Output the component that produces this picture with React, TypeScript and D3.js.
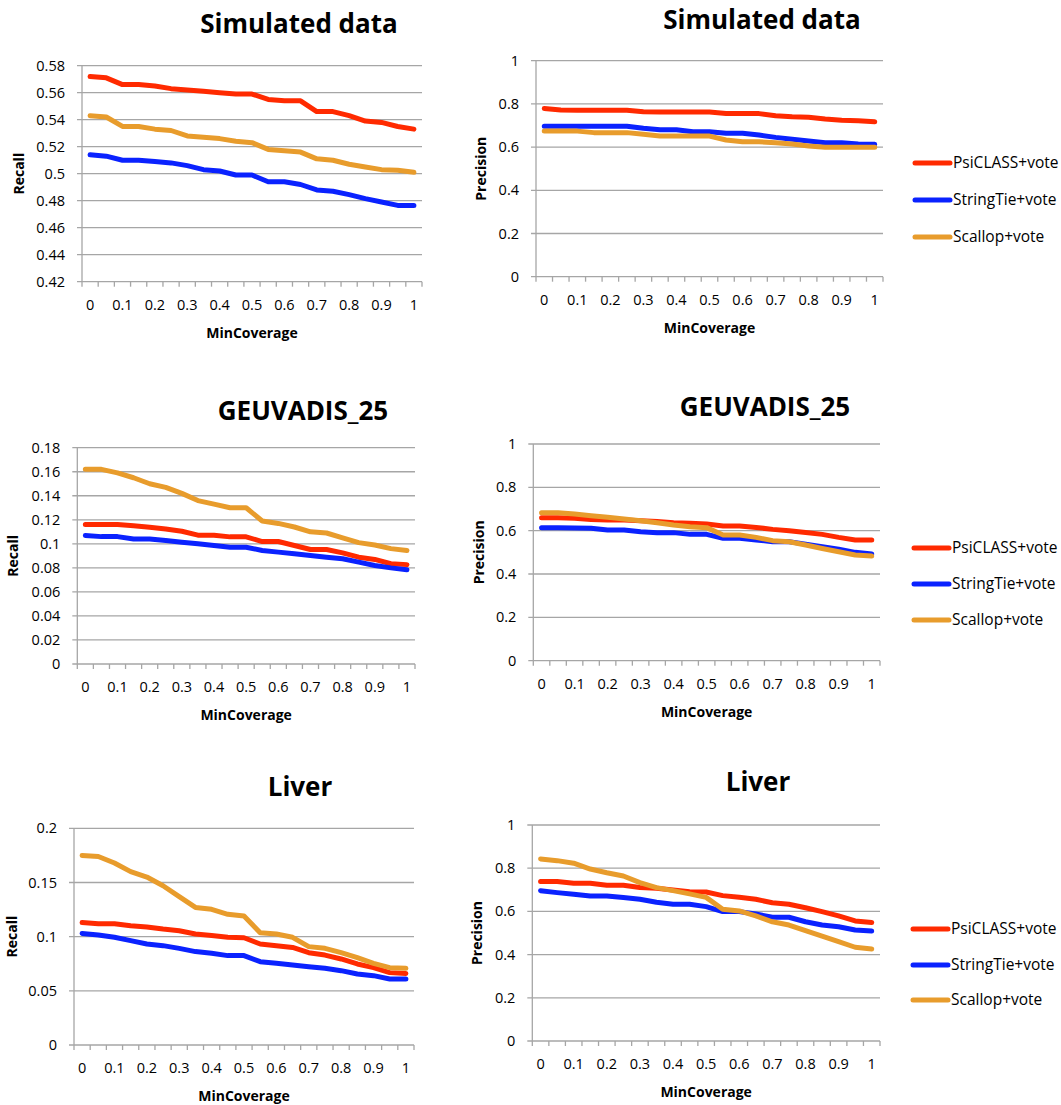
import React from "react";
import * as d3 from "d3";

const minCoverage = [0, 0.05, 0.1, 0.15, 0.2, 0.25, 0.3, 0.35, 0.4, 0.45, 0.5, 0.55, 0.6, 0.65, 0.7, 0.75, 0.8, 0.85, 0.9, 0.95, 1];
const xTickLabels = ["0", "", "0.1", "", "0.2", "", "0.3", "", "0.4", "", "0.5", "", "0.6", "", "0.7", "", "0.8", "", "0.9", "", "1"];
const seriesNames = ["PsiCLASS+vote", "StringTie+vote", "Scallop+vote"];
const seriesColors = ["#ff2a00", "#0a22ff", "#e89c2c"];

// Simulated data
const simRecallPsi = [0.572, 0.571, 0.566, 0.566, 0.565, 0.563, 0.562, 0.561, 0.560, 0.559, 0.559, 0.555, 0.554, 0.554, 0.546, 0.546, 0.543, 0.539, 0.538, 0.535, 0.533];
const simRecallStr = [0.514, 0.513, 0.510, 0.510, 0.509, 0.508, 0.506, 0.503, 0.502, 0.499, 0.499, 0.494, 0.494, 0.492, 0.488, 0.487, 0.4845, 0.4815, 0.479, 0.4765, 0.4765];
const simRecallSca = [0.543, 0.542, 0.535, 0.535, 0.533, 0.532, 0.528, 0.527, 0.526, 0.524, 0.523, 0.518, 0.517, 0.516, 0.511, 0.510, 0.507, 0.505, 0.503, 0.5025, 0.501];
const simPrecPsi = [0.779, 0.772, 0.771, 0.771, 0.771, 0.771, 0.764, 0.762, 0.762, 0.762, 0.762, 0.756, 0.755, 0.755, 0.745, 0.740, 0.738, 0.730, 0.724, 0.722, 0.717];
const simPrecStr = [0.697, 0.697, 0.697, 0.697, 0.697, 0.697, 0.687, 0.680, 0.680, 0.671, 0.671, 0.664, 0.664, 0.656, 0.645, 0.636, 0.628, 0.620, 0.620, 0.614, 0.613];
const simPrecSca = [0.674, 0.674, 0.674, 0.667, 0.667, 0.667, 0.659, 0.651, 0.651, 0.651, 0.651, 0.633, 0.625, 0.625, 0.620, 0.614, 0.605, 0.599, 0.599, 0.599, 0.599];

// GEUVADIS_25
const geuRecallPsi = [0.116, 0.116, 0.116, 0.115, 0.1138, 0.1124, 0.1105, 0.1072, 0.1072, 0.1058, 0.1058, 0.1019, 0.1019, 0.0986, 0.0953, 0.0953, 0.0925, 0.0889, 0.087, 0.0834, 0.0827];
const geuRecallStr = [0.107, 0.106, 0.106, 0.104, 0.104, 0.1028, 0.1014, 0.100, 0.0986, 0.0972, 0.0972, 0.0945, 0.0931, 0.0917, 0.0903, 0.0889, 0.0876, 0.0848, 0.082, 0.080, 0.0785];
const geuRecallSca = [0.162, 0.162, 0.159, 0.155, 0.150, 0.147, 0.142, 0.136, 0.133, 0.130, 0.130, 0.119, 0.117, 0.114, 0.110, 0.109, 0.105, 0.101, 0.099, 0.096, 0.0945];
const geuPrecPsi = [0.660, 0.660, 0.657, 0.652, 0.649, 0.649, 0.646, 0.642, 0.637, 0.634, 0.631, 0.622, 0.622, 0.615, 0.606, 0.600, 0.592, 0.583, 0.569, 0.557, 0.557];
const geuPrecStr = [0.614, 0.614, 0.612, 0.611, 0.603, 0.603, 0.595, 0.591, 0.591, 0.583, 0.583, 0.565, 0.565, 0.557, 0.549, 0.549, 0.538, 0.526, 0.515, 0.500, 0.492];
const geuPrecSca = [0.683, 0.683, 0.677, 0.669, 0.662, 0.654, 0.646, 0.637, 0.626, 0.618, 0.614, 0.580, 0.580, 0.569, 0.554, 0.549, 0.534, 0.518, 0.503, 0.488, 0.483];

// Liver
const livRecallPsi = [0.113, 0.112, 0.112, 0.110, 0.109, 0.107, 0.1055, 0.1025, 0.101, 0.0994, 0.099, 0.0932, 0.0917, 0.090, 0.0852, 0.083, 0.0794, 0.0748, 0.0714, 0.0668, 0.066];
const livRecallStr = [0.103, 0.1015, 0.0994, 0.0963, 0.0932, 0.0917, 0.0892, 0.0862, 0.0846, 0.0825, 0.0825, 0.0769, 0.0754, 0.0738, 0.0723, 0.0708, 0.0686, 0.0655, 0.064, 0.0609, 0.0609];
const livRecallSca = [0.175, 0.174, 0.168, 0.160, 0.155, 0.147, 0.137, 0.127, 0.1252, 0.1206, 0.119, 0.1037, 0.1025, 0.0994, 0.0908, 0.0892, 0.0852, 0.0806, 0.0754, 0.0714, 0.0708];
const livPrecPsi = [0.738, 0.738, 0.730, 0.730, 0.721, 0.721, 0.711, 0.707, 0.699, 0.691, 0.690, 0.673, 0.665, 0.656, 0.640, 0.633, 0.617, 0.599, 0.579, 0.556, 0.549];
const livPrecStr = [0.696, 0.687, 0.679, 0.671, 0.671, 0.664, 0.656, 0.642, 0.633, 0.633, 0.622, 0.599, 0.599, 0.588, 0.573, 0.573, 0.552, 0.537, 0.529, 0.514, 0.509];
const livPrecSca = [0.843, 0.835, 0.823, 0.796, 0.779, 0.764, 0.733, 0.710, 0.696, 0.681, 0.665, 0.610, 0.602, 0.579, 0.552, 0.537, 0.511, 0.486, 0.460, 0.434, 0.426];

const recallTicksSim = [0.42, 0.44, 0.46, 0.48, 0.5, 0.52, 0.54, 0.56, 0.58];
const recallTicksGeu = [0, 0.02, 0.04, 0.06, 0.08, 0.1, 0.12, 0.14, 0.16, 0.18];
const recallTicksLiv = [0, 0.05, 0.1, 0.15, 0.2];
const precisionTicks = [0, 0.2, 0.4, 0.6, 0.8, 1];

const FONT = "'Open Sans', 'DejaVu Sans', sans-serif";

type Panel = {
  title: string;
  yLabel: string;
  series: number[][];
  ticks: number[];
  left: number; right: number; top: number; bottom: number;
  titleX: number; titleY: number;
  yLabelX: number;
  legend?: { x: number; y: number[] };
};

const panels: Panel[] = [
  { title: "Simulated data", yLabel: "Recall", series: [simRecallPsi, simRecallStr, simRecallSca], ticks: recallTicksSim,
    left: 82, right: 422, top: 65.7, bottom: 281.7, titleX: 299, titleY: 33, yLabelX: 19 },
  { title: "Simulated data", yLabel: "Precision", series: [simPrecPsi, simPrecStr, simPrecSca], ticks: precisionTicks,
    left: 536, right: 883, top: 60.7, bottom: 276.7, titleX: 762, titleY: 29, yLabelX: 481,
    legend: { x: 913, y: [163, 200, 237] } },
  { title: "GEUVADIS_25", yLabel: "Recall", series: [geuRecallPsi, geuRecallStr, geuRecallSca], ticks: recallTicksGeu,
    left: 77.3, right: 415, top: 447.7, bottom: 664, titleX: 303, titleY: 420, yLabelX: 13.5 },
  { title: "GEUVADIS_25", yLabel: "Precision", series: [geuPrecPsi, geuPrecStr, geuPrecSca], ticks: precisionTicks,
    left: 533.3, right: 880, top: 444, bottom: 660.7, titleX: 765, titleY: 416, yLabelX: 479,
    legend: { x: 912, y: [548, 584, 620] } },
  { title: "Liver", yLabel: "Recall", series: [livRecallPsi, livRecallStr, livRecallSca], ticks: recallTicksLiv,
    left: 74, right: 414, top: 828.3, bottom: 1045, titleX: 300, titleY: 796, yLabelX: 12 },
  { title: "Liver", yLabel: "Precision", series: [livPrecPsi, livPrecStr, livPrecSca], ticks: precisionTicks,
    left: 532.3, right: 880, top: 825, bottom: 1041, titleX: 758, titleY: 791, yLabelX: 477.5,
    legend: { x: 911, y: [929, 965, 1000] } },
];

const GRID = "#a6a6a6";

function ChartPanel({ p }: { p: Panel }) {
  const cats = minCoverage.map(String);
  const band = d3.scaleBand<string>().domain(cats).range([p.left, p.right]).padding(0);
  const xPt = d3.scalePoint<string>().domain(cats).range([p.left, p.right]).padding(0.5);
  const y = d3.scaleLinear().domain([p.ticks[0], p.ticks[p.ticks.length - 1]]).range([p.bottom, p.top]);
  const line = d3.line<number>()
    .x((_, i) => xPt(cats[i]) as number)
    .y((v) => y(v));
  const boundaries = [...cats.map((c) => band(c) as number), p.right];
  const yFmt = (v: number) => String(+v.toFixed(2));
  return (
    <g>
      <text x={p.titleX} y={p.titleY} textAnchor="middle" fontFamily={FONT} fontWeight="bold" fontSize={26} fill="#000">
        {p.title}
      </text>
      {p.ticks.map((t, i) => (
        <g key={"g" + i}>
          <line x1={p.left - 5} x2={p.right} y1={y(t)} y2={y(t)} stroke={GRID} strokeWidth={1.3} />
          <text x={p.left - 17} y={y(t)} dy="0.35em" textAnchor="end" fontFamily={FONT} fontSize={14.5} fill="#000">
            {yFmt(t)}
          </text>
        </g>
      ))}
      <line x1={p.left} x2={p.left} y1={p.top} y2={p.bottom} stroke={GRID} strokeWidth={1.3} />
      {boundaries.map((bx, i) => (
        <line key={"t" + i} x1={bx} x2={bx} y1={p.bottom} y2={p.bottom + 5} stroke={GRID} strokeWidth={1.3} />
      ))}
      {xTickLabels.map((lab, i) =>
        lab ? (
          <text key={"x" + i} x={xPt(cats[i]) as number} y={p.bottom + 28} textAnchor="middle" fontFamily={FONT} fontSize={14.5} fill="#000">
            {lab}
          </text>
        ) : null
      )}
      <text x={(p.left + p.right) / 2} y={p.bottom + 56} textAnchor="middle" fontFamily={FONT} fontWeight="bold" fontSize={14} fill="#000">
        MinCoverage
      </text>
      <text transform={`translate(${p.yLabelX},${(p.top + p.bottom) / 2}) rotate(-90)`} dy="0.35em" textAnchor="middle"
        fontFamily={FONT} fontWeight="bold" fontSize={14} fill="#000">
        {p.yLabel}
      </text>
      {p.series.map((s, si) => (
        <path key={"s" + si} d={line(s) || ""} fill="none" stroke={seriesColors[si]} strokeWidth={5}
          strokeLinejoin="round" strokeLinecap="round" />
      ))}
      {p.legend &&
        seriesNames.map((n, si) => (
          <g key={"l" + si}>
            <line x1={p.legend!.x + 2} x2={p.legend!.x + 37} y1={p.legend!.y[si]} y2={p.legend!.y[si]}
              stroke={seriesColors[si]} strokeWidth={5} strokeLinecap="round" />
            <text x={p.legend!.x + 40} y={p.legend!.y[si]} dy="0.35em" fontFamily={FONT} fontSize={15.5} fill="#000">
              {n}
            </text>
          </g>
        ))}
    </g>
  );
}

export default function App() {
  return (
    <svg width={1061} height={1105} style={{ position: "absolute", left: 0, top: 0, background: "#fff" }}>
      <rect width={1061} height={1105} fill="#fff" />
      {panels.map((p, i) => (
        <ChartPanel key={i} p={p} />
      ))}
    </svg>
  );
}
